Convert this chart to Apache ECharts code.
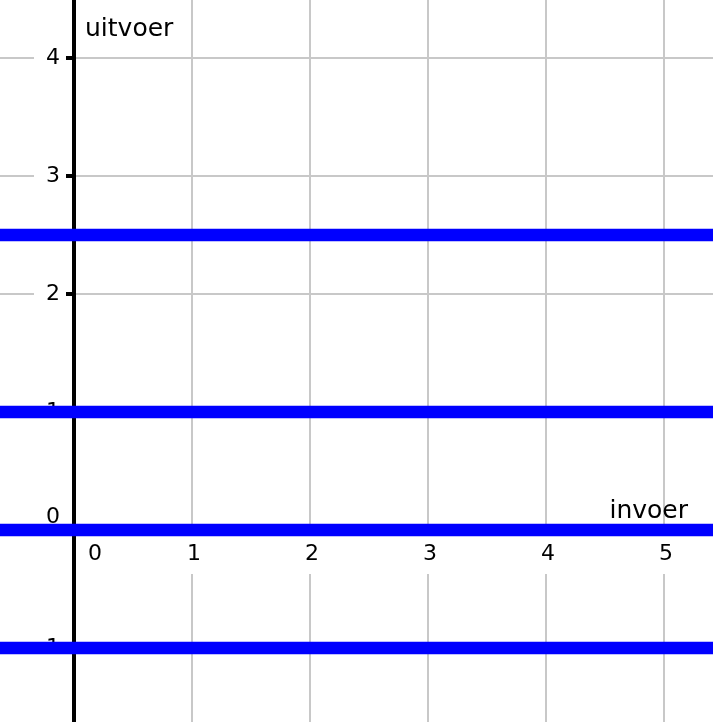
<!DOCTYPE html>
<html>
<head>
<meta charset="utf-8">
<script src="https://cdn.jsdelivr.net/npm/echarts@6/dist/echarts.min.js"></script>
<style>
html,body{margin:0;padding:0;background:#fff;}
#chart{width:713px;height:722px;}
</style>
</head>
<body>
<div id="chart"></div>
<script>
// Data
const xRange = [-1, 6];
const yRange = [-2, 5];
const lineLevels = [2.5, 1, 0, -1];
const xName = 'invoer';
const yName = 'uitvoer';

const chart = echarts.init(document.getElementById('chart'), null, {renderer: 'canvas'});
const FONT = 'DejaVu Sans';
const gridColor = '#c8c8c8';
const TICK_FS = 22;

const series = lineLevels.map(function (v) {
  return {
    type: 'line',
    data: [[xRange[0], v], [xRange[1], v]],
    showSymbol: false,
    symbol: 'none',
    z: 5,
    lineStyle: {color: '#0000ff', width: 12.5},
    silent: true,
    animation: false
  };
});

const option = {
  animation: false,
  backgroundColor: '#fff',
  grid: {left: -44, right: -69, top: -60, bottom: -44, containLabel: false, outerBoundsMode: 'none'},
  xAxis: [
    {
      type: 'value', min: xRange[0], max: xRange[1], interval: 1, z: 1,
      position: 'bottom', offset: -236,
      axisLine: {onZero: false, lineStyle: {color: '#000', width: 4}},
      axisTick: {show: false},
      splitLine: {show: false},
      name: xName, nameLocation: 'end', nameGap: -94,
      nameTextStyle: {fontFamily: FONT, fontSize: 25, lineHeight: 25, color: '#000', align: 'right', verticalAlign: 'bottom', padding: [0, 0, 6, 0]},
      axisLabel: {
        margin: 6, fontFamily: FONT, fontSize: TICK_FS, color: '#000',
        backgroundColor: '#fff', padding: [6, 6, 8, 10], lineHeight: 24,
        formatter: function (v) { return v === 0 ? '{z|0}' : String(v); },
        rich: {z: {fontFamily: FONT, fontSize: TICK_FS, color: '#000', lineHeight: 24, padding: [0, 0, 0, 38]}}
      }
    },
    {
      type: 'value', min: xRange[0], max: xRange[1], interval: 1, z: 0, position: 'top',
      axisLine: {show: false, onZero: false}, axisTick: {show: false}, axisLabel: {show: false},
      splitLine: {show: true, lineStyle: {color: gridColor, width: 2}}
    }
  ],
  yAxis: [
    {
      type: 'value', min: yRange[0], max: yRange[1], interval: 1, z: 2,
      position: 'left', offset: -118,
      axisLine: {onZero: false, lineStyle: {color: '#000', width: 4}},
      axisTick: {show: true, length: 8, lineStyle: {color: '#000', width: 4}},
      splitLine: {show: false},
      name: yName, nameLocation: 'end', nameGap: -89,
      nameTextStyle: {fontFamily: FONT, fontSize: 25, lineHeight: 25, color: '#000', align: 'left', verticalAlign: 'middle', padding: [0, 0, 0, 11]},
      axisLabel: {
        margin: 8, fontFamily: FONT, fontSize: TICK_FS, color: '#000',
        backgroundColor: '#fff', padding: [4, 6, 4, 12], lineHeight: 24,
        formatter: function (v) { return v === 0 ? '{z|0}' : (v < 0 ? '\u2212' + Math.abs(v) : String(v)); },
        rich: {z: {fontFamily: FONT, fontSize: TICK_FS, color: '#000', lineHeight: 24, padding: [0, 0, 26, 0]}}
      }
    },
    {
      type: 'value', min: yRange[0], max: yRange[1], interval: 1, z: 0, position: 'right',
      axisLine: {show: false, onZero: false}, axisTick: {show: false}, axisLabel: {show: false},
      splitLine: {show: true, lineStyle: {color: gridColor, width: 2}}
    }
  ],
  series: series
};
chart.setOption(option);
</script>
</body>
</html>
